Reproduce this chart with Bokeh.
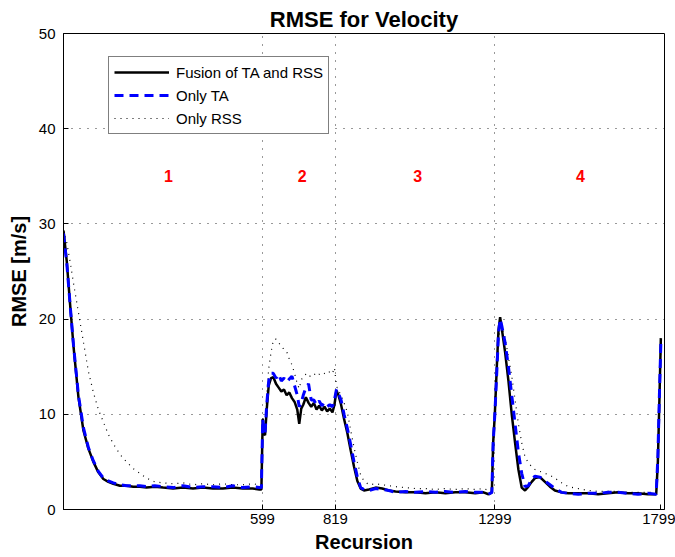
from bokeh.plotting import figure
from bokeh.models import (Range1d, FixedTicker, Legend, LegendItem, ColumnDataSource)
from bokeh.core.properties import value
from bokeh.embed import file_html
from bokeh.resources import INLINE

# ---------------- data ----------------
recursion = [0, 10, 20, 30, 45, 60, 75, 90, 105, 120, 135, 150, 170, 190, 210, 230, 250, 275, 300, 330,
             360, 390, 420, 450, 480, 510, 540, 570, 590, 596,
             600, 603, 607, 612, 618, 625, 632, 640, 648, 656, 664, 672, 680, 688, 696, 704, 710, 716, 722, 730,
             738, 746, 754, 762, 770, 778, 786, 794, 802, 810, 816, 822, 828, 836, 845, 855, 865, 875, 885, 895,
             905, 920, 940, 960, 980, 1000, 1030, 1060, 1090, 1120, 1150, 1180, 1210, 1240, 1265, 1280, 1290,
             1294, 1299, 1305, 1310, 1315, 1320, 1330, 1340, 1350, 1360, 1370, 1380, 1390, 1400, 1410, 1420,
             1435, 1450, 1465, 1480, 1500, 1520, 1550, 1580, 1610, 1640, 1670, 1700, 1730, 1760, 1785, 1790,
             1795, 1799]

fusion = [29.3, 26.0, 21.5, 17.2, 11.8, 8.3, 6.4, 5.0, 3.9, 3.2, 2.9, 2.7, 2.5, 2.5, 2.4, 2.4, 2.3, 2.4, 2.3, 2.2,
          2.3, 2.2, 2.3, 2.2, 2.2, 2.3, 2.2, 2.2, 2.1, 2.1,
          9.5, 8.0, 7.8, 10.5, 13.0, 13.8, 13.9, 13.2, 12.8, 12.4, 12.6, 12.0, 12.3, 11.7, 11.3, 10.5, 9.0, 10.6, 11.0, 11.8,
          11.2, 10.8, 11.2, 10.5, 10.9, 10.4, 10.8, 10.3, 10.6, 10.2, 11.0, 12.5, 12.0, 11.0, 9.5, 8.0, 6.2, 4.5, 3.0, 2.2,
          2.0, 2.1, 2.3, 2.2, 2.0, 1.9, 1.8, 1.8, 1.7, 1.8, 1.7, 1.8, 1.8, 1.7, 1.8, 1.6, 1.8,
          7.0, 10.0, 15.0, 18.8, 20.2, 19.0, 16.5, 13.5, 10.0, 7.0, 4.2, 2.3, 2.0, 2.4, 2.9, 3.3,
          3.4, 2.9, 2.4, 2.0, 1.8, 1.7, 1.7, 1.7, 1.6, 1.7, 1.8, 1.7, 1.7, 1.6, 1.6, 5.0,
          12.0, 18.0]

only_ta = [29.0, 25.8, 21.5, 17.3, 12.0, 8.6, 6.5, 5.1, 4.0, 3.3, 3.0, 2.8, 2.6, 2.5, 2.5, 2.5, 2.4, 2.5, 2.4, 2.3,
           2.5, 2.3, 2.4, 2.4, 2.3, 2.5, 2.3, 2.4, 2.3, 2.3,
           9.5, 8.2, 8.0, 11.0, 13.5, 14.3, 14.3, 13.8, 14.2, 13.5, 13.8, 13.4, 13.7, 14.0, 13.0, 12.0, 10.8, 11.2, 12.0, 12.8,
           13.2, 11.5, 11.5, 11.0, 11.4, 10.9, 11.2, 10.8, 11.0, 10.8, 11.5, 12.6, 12.2, 11.5, 10.0, 8.5, 6.8, 5.0, 3.4, 2.3,
           2.1, 2.0, 2.2, 2.1, 2.0, 1.8, 1.9, 1.8, 1.9, 1.8, 1.9, 1.8, 1.9, 1.8, 1.8, 1.6, 1.8,
           7.0, 10.0, 14.5, 18.5, 20.0, 19.3, 17.5, 15.0, 12.0, 9.0, 6.0, 3.8, 2.4, 2.5, 3.2, 3.5,
           3.4, 3.0, 2.6, 2.2, 1.8, 1.7, 1.6, 1.7, 1.7, 1.8, 1.8, 1.7, 1.6, 1.7, 1.6, 5.5,
           12.5, 17.5]

only_rss = [29.3, 28.0, 26.0, 23.8, 20.7, 17.6, 14.5, 12.3, 10.5, 9.2, 7.9, 6.9, 5.8, 5.0, 4.3, 3.8, 3.3, 2.9, 2.8, 2.7,
            2.8, 2.6, 2.7, 2.6, 2.7, 2.6, 2.6, 2.7, 2.6, 2.5,
            9.8, 8.5, 9.0, 12.0, 14.8, 16.5, 17.8, 17.9, 17.5, 17.2, 16.8, 16.6, 15.8, 15.2, 14.3, 13.2, 12.7, 13.6, 14.0, 14.2,
            13.9, 14.1, 14.3, 14.0, 14.2, 14.1, 14.3, 14.2, 14.5, 14.3, 14.9, 13.0, 12.5, 12.0, 11.2, 10.2, 8.3, 6.5, 5.0, 3.6,
            3.0, 2.6, 2.7, 2.6, 2.5, 2.4, 2.3, 2.2, 2.2, 2.1, 2.2, 2.1, 2.2, 2.1, 2.2, 2.0, 2.1,
            7.5, 10.0, 14.0, 17.5, 19.5, 19.2, 18.0, 16.0, 14.0, 11.5, 9.0, 7.0, 5.5, 4.9, 4.5, 4.2,
            4.0, 3.8, 3.6, 3.3, 2.8, 2.4, 2.2, 2.0, 1.9, 1.9, 1.9, 1.8, 1.8, 1.8, 1.8, 5.0,
            12.0, 17.5]

x_ticks = [599, 819, 1299, 1799]
y_ticks = [0, 10, 20, 30, 40, 50]

region_labels = ["1", "2", "3", "4"]
region_x = [316, 719, 1067, 1557]
region_y = [35, 35, 35, 35]

FONT = "Liberation Sans"

# ---------------- figure ----------------
p = figure(width=675, height=557, output_backend="svg", toolbar_location=None,
           x_range=Range1d(0, 1810), y_range=Range1d(0, 50),
           min_border_left=63, min_border_right=11, min_border_top=33, min_border_bottom=48)
p.background_fill_color = "white"
p.border_fill_color = "white"
p.outline_line_color = "black"
p.outline_line_width = 1

p.title.text = "RMSE for Velocity"
p.title.align = "center"
p.title.text_font = FONT
p.title.text_font_size = "22px"
p.title.text_font_style = "bold"
p.title.text_color = "black"
p.title.standoff = 4

src = ColumnDataSource(dict(x=recursion, fusion=fusion, ta=only_ta, rss=only_rss))

r_rss = p.line("x", "rss", source=src, line_color="black", line_width=1.2, line_dash="1 5")
r_fus = p.line("x", "fusion", source=src, line_color="black", line_width=2.5)
r_ta = p.line("x", "ta", source=src, line_color="blue", line_width=3, line_dash="9 6")

p.text(x=region_x, y=region_y, text=region_labels, text_color="red",
       text_font=value(FONT), text_font_size="16px", text_font_style="bold",
       text_align="center", text_baseline="middle")

# axes
for ax in (p.xaxis[0], p.yaxis[0]):
    ax.major_tick_in = 5
    ax.major_tick_out = 0
    ax.minor_tick_in = 0
    ax.minor_tick_out = 0
    ax.axis_line_color = "black"
    ax.major_tick_line_color = "black"
    ax.major_label_text_font = FONT
    ax.major_label_text_font_size = "15px"
    ax.major_label_text_color = "black"
    ax.axis_label_text_font = FONT
    ax.axis_label_text_font_size = "20px"
    ax.axis_label_text_font_style = "bold"
    ax.axis_label_text_color = "black"

p.xaxis[0].ticker = FixedTicker(ticks=x_ticks)
p.yaxis[0].ticker = FixedTicker(ticks=y_ticks)
p.xaxis[0].axis_label = "Recursion"
p.yaxis[0].axis_label = "RMSE [m/s]"
p.xaxis[0].major_label_standoff = 4
p.xaxis[0].axis_label_standoff = 4
p.yaxis[0].major_label_standoff = 8
p.yaxis[0].axis_label_standoff = 6

# grid
p.xgrid.ticker = FixedTicker(ticks=[599, 819, 1299])
p.ygrid.ticker = FixedTicker(ticks=[10, 20, 30, 40])
for g in (p.xgrid[0], p.ygrid[0]):
    g.grid_line_color = "black"
    g.grid_line_dash = "1 7"
    g.grid_line_width = 1
    g.grid_line_alpha = 0.8

# legend
legend = Legend(items=[LegendItem(label="Fusion of TA and RSS", renderers=[r_fus]),
                       LegendItem(label="Only TA", renderers=[r_ta]),
                       LegendItem(label="Only RSS", renderers=[r_rss])],
                location=(45, 375))
legend.label_text_font = FONT
legend.label_text_font_size = "15px"
legend.label_text_color = "black"
legend.glyph_width = 55
legend.glyph_height = 20
legend.label_height = 20
legend.label_standoff = 7
legend.spacing = 3
legend.padding = 5
legend.margin = 0
legend.border_line_color = "black"
legend.border_line_width = 1
legend.background_fill_color = "white"
legend.background_fill_alpha = 1
p.add_layout(legend, "center")

open("out.html", "w").write(file_html(p, INLINE))
